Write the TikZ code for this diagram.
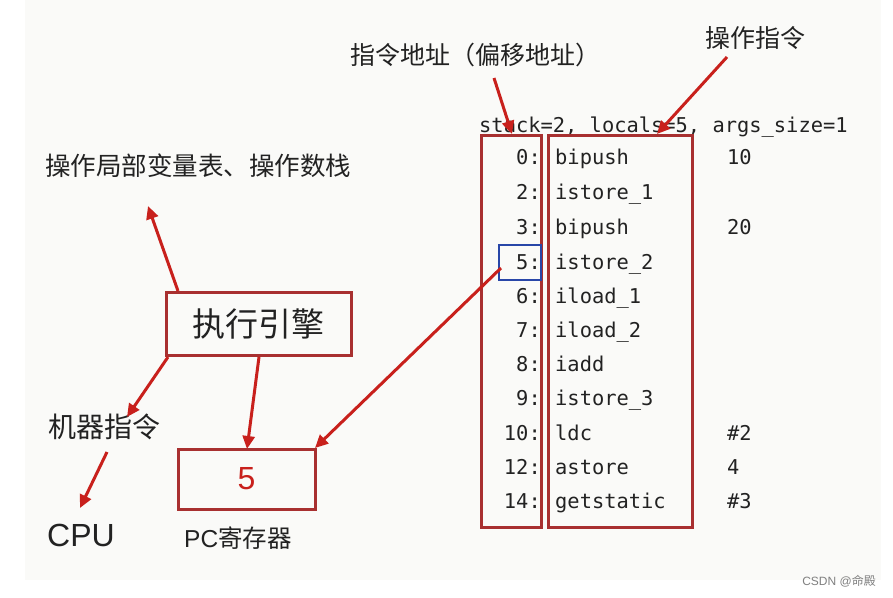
\documentclass[tikz,border=0pt]{standalone}
\usepackage{fontspec}
\setmainfont{Liberation Sans}
\newfontfamily\cjk{Noto Sans CJK SC}
\newfontfamily\codefont{DejaVu Sans Mono}
\usetikzlibrary{arrows.meta}
\definecolor{bgc}{HTML}{FAFAF8}
\definecolor{boxred}{HTML}{A83030}
\definecolor{arrred}{HTML}{C8201C}
\definecolor{selblue}{HTML}{2846A8}
\definecolor{txt}{HTML}{222222}
\tikzset{
  lbl/.style={inner sep=0pt, text=txt, font=\cjk\fontsize{25.5}{28}\selectfont},
  redbox/.style={draw=boxred, line width=3pt, inner sep=0pt},
  arr/.style={draw=arrred, line width=3pt, -{Triangle[length=13pt,width=12pt]}},
  code/.style={inner sep=0pt, text=txt, font=\codefont\fontsize{20.4}{24}\selectfont, anchor=base west},
  addr/.style={inner sep=0pt, text=txt, font=\codefont\fontsize{20.4}{24}\selectfont, anchor=base east}
}
\begin{document}
\begin{tikzpicture}[x=1pt,y=-1pt]
\useasboundingbox (0,0) rectangle (893,597);
\fill[white] (0,0) rectangle (893,597);
\fill[bgc] (25,0) rectangle (881,580);

% labels
\node[lbl, font=\cjk\fontsize{25}{28}\selectfont] (addrlbl) at (475,55) {指令地址（偏移地址）};
\node[lbl, font=\cjk\fontsize{25}{28}\selectfont] (oplbl) at (755,38) {操作指令};
\node[lbl] (locallbl) at (198,166) {操作局部变量表、操作数栈};
\node[lbl, font=\cjk\fontsize{28}{30}\selectfont] (mach) at (104,427) {机器指令};
\node[inner sep=0pt, text=txt, font=\fontsize{32}{36}\selectfont] (cpu) at (81,535) {CPU};
\node[inner sep=0pt, text=txt, font=\fontsize{24.5}{28}\selectfont] (pclbl) at (238,538) {PC{\cjk 寄存器}};

% engine and PC
\node[redbox, minimum width=185pt, minimum height=63pt, font=\cjk\fontsize{33}{36}\selectfont, text=txt] (engine) at (258.5,324) {执行引擎};
\node[redbox, minimum width=137pt, minimum height=60pt, font=\fontsize{32}{36}\selectfont, text=arrred] (pc) at (246.5,479) {5};

% code listing
\node[code] (hdr) at (479,132) {stack=2, locals=5, args\_size=1};
\foreach \a/\ins/\opd/\y in {0/bipush/10/164, 2/istore\_1//199, 3/bipush/20/234, 5/istore\_2//269, 6/iload\_1//303, 7/iload\_2//337, 8/iadd//371, 9/istore\_3//405, 10/ldc/\#2/440, 12/astore/4/474, 14/getstatic/\#3/508}{
  \node[addr] (a\a) at (541,\y) {\a:};
  \node[code] (i\a) at (555,\y) {\ins};
  \node[code] (o\a) at (727,\y) {\opd};
}
\node[redbox, minimum width=60pt, minimum height=392pt] (addrbox) at (511,331) {};
\node[redbox, minimum width=144pt, minimum height=392pt] (opbox) at (620,331) {};
\node[draw=selblue, line width=2pt, inner sep=0pt, minimum width=42pt, minimum height=35pt] (sel) at (520,262) {};

% connector endpoints
\coordinate (s1) at (494,78);
\coordinate (t1) at (512,134);
\coordinate (s2) at (727,57);
\coordinate (t2) at (657,134);
\coordinate (s3) at (178,291);
\coordinate (t3) at (148,206);
\coordinate (s4) at (168,357);
\coordinate (t4) at (127,417);
\coordinate (s5) at (107,452);
\coordinate (t5) at (80,508);
\coordinate (s6) at (259,357);
\coordinate (t6) at (247,449);
\coordinate (s7) at (501,268);
\coordinate (t7) at (315,448);

\draw[arr] (s1) -- (t1);
\draw[arr] (s2) -- (t2);
\draw[arr] (s3) -- (t3);
\draw[arr] (s4) -- (t4);
\draw[arr] (s5) -- (t5);
\draw[arr] (s6) -- (t6);
\draw[arr] (s7) -- (t7);

% watermark
\node[inner sep=0pt, anchor=east, text=gray, font=\fontsize{12}{14}\selectfont] (wm) at (876,581) {CSDN @{\cjk 命殿}};
\end{tikzpicture}
\end{document}
